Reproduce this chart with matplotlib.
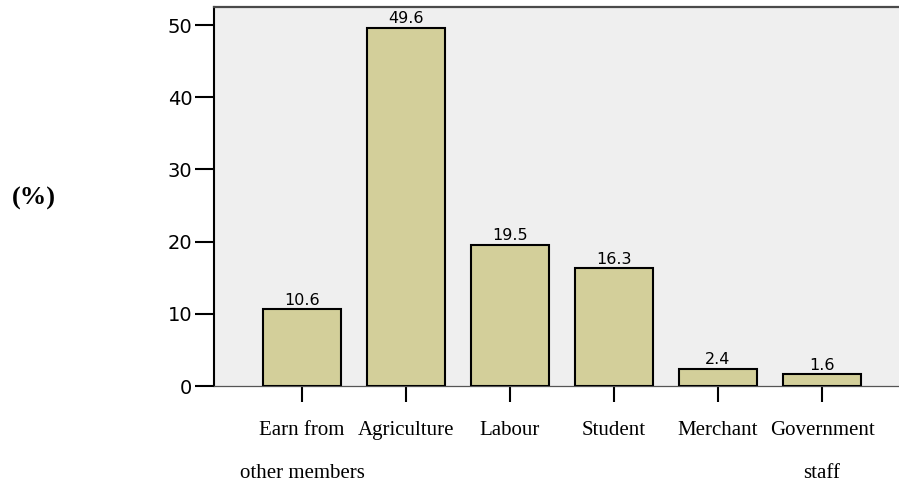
import matplotlib
matplotlib.use("Agg")
import matplotlib.pyplot as plt

categories = ["Earn from\nother members", "Agriculture", "Labour", "Student",
              "Merchant", "Government\nstaff"]
values = [10.6, 49.6, 19.5, 16.3, 2.4, 1.6]
yticks = [0, 10, 20, 30, 40, 50]

fig = plt.figure(figsize=(8.99, 4.88), dpi=100)
ax = fig.add_axes([214/899, 1 - 386/488, 1 - 214/899, (386 - 7)/488])
ax.set_facecolor("#efefef")

x = list(range(len(categories)))
bars = ax.bar(x, values, width=0.75, color="#d3cf9a", edgecolor="black",
              linewidth=1.5, zorder=3)
for xi, v in zip(x, values):
    ax.text(xi, v + 0.25, f"{v:.1f}", ha="center", va="bottom",
            fontsize=11.5, family="DejaVu Sans", zorder=4)

ax.set_xlim(-0.846, 5.74)
ax.set_ylim(0, 52.5)
ax.set_yticks(yticks)
ax.set_yticklabels([str(t) for t in yticks], fontsize=14, family="DejaVu Sans")
ax.tick_params(axis="y", length=13.5, width=1.5, pad=2, color="black")

ax.set_xticks(x)
ax.set_xticklabels(categories, fontsize=15, family="Liberation Serif",
                   linespacing=2.7)
ax.tick_params(axis="x", length=11.5, width=1.5, pad=14, color="black")

ax.spines["right"].set_visible(False)
ax.spines["top"].set_color("#4a4a4a")
ax.spines["top"].set_linewidth(1.6)
ax.spines["left"].set_color("black")
ax.spines["left"].set_linewidth(1.5)
ax.spines["bottom"].set_color("#555555")
ax.spines["bottom"].set_linewidth(0.9)

fig.text(34/899, 1 - 198/488, "(%)", fontsize=19, fontweight="bold",
         family="Liberation Serif", ha="center", va="center")

fig.savefig("out.png", dpi=100)
